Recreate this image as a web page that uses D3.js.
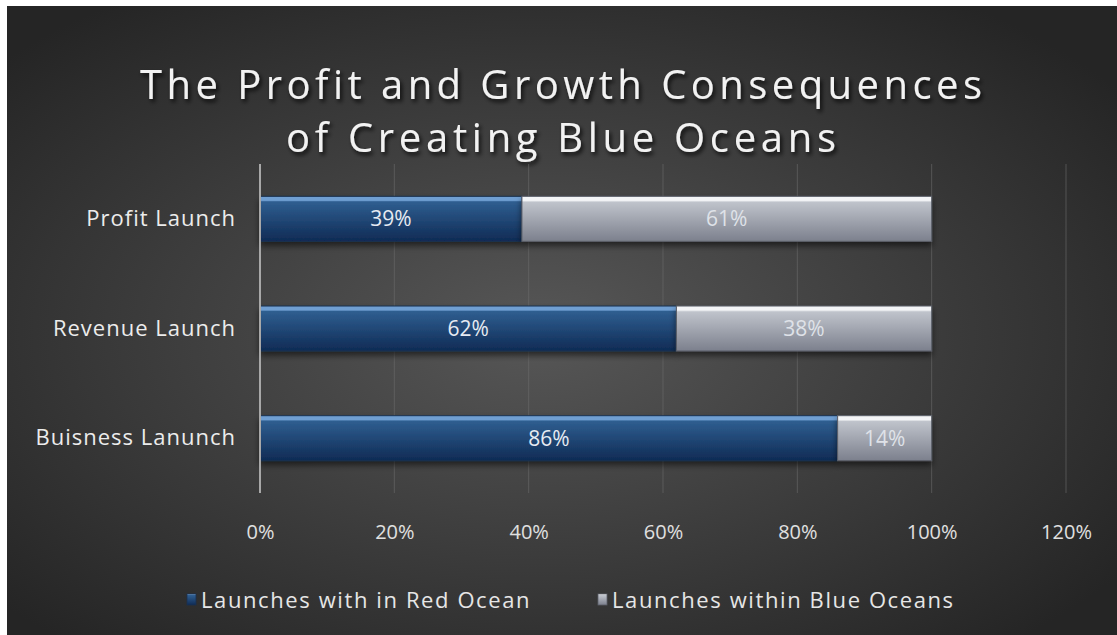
<!DOCTYPE html>
<html>
<head>
<meta charset="utf-8">
<script src="https://cdn.jsdelivr.net/npm/d3@7"></script>
<style>
  html, body { margin: 0; padding: 0; background: #fff; }
  svg { display: block; }
  text { font-family: "Open Sans", Lato, sans-serif; font-variant-ligatures: none; }
</style>
</head>
<body>
<div id="chart"></div>
<script>
const categories = ['Profit Launch', 'Revenue Launch', 'Buisness Lanunch'];
const redOcean = [39, 62, 86];
const blueOcean = [61, 38, 14];
const seriesNames = ['Launches with in Red Ocean', 'Launches within Blue Oceans'];
const xTicks = [0, 20, 40, 60, 80, 100, 120];
const titleLines = ['The Profit and Growth Consequences', 'of Creating Blue Oceans'];

const W = 1117, H = 635;

const svg = d3.select('#chart').append('svg')
  .attr('width', W)
  .attr('height', H);

const defs = svg.append('defs');

// background radial glow
const bgGrad = defs.append('radialGradient')
  .attr('id', 'bgGrad')
  .attr('cx', '48%').attr('cy', '52%').attr('r', '65%');
bgGrad.append('stop').attr('offset', '0%').attr('stop-color', '#575757');
bgGrad.append('stop').attr('offset', '100%').attr('stop-color', '#252525');

// bar fills
const blueGrad = defs.append('linearGradient')
  .attr('id', 'blueGrad').attr('x1', 0).attr('y1', 0).attr('x2', 0).attr('y2', 1);
blueGrad.append('stop').attr('offset', '0%').attr('stop-color', '#6f9fd2');
blueGrad.append('stop').attr('offset', '9%').attr('stop-color', '#6f9fd2');
blueGrad.append('stop').attr('offset', '12%').attr('stop-color', '#2f5e90');
blueGrad.append('stop').attr('offset', '100%').attr('stop-color', '#0f2b55');

const grayGrad = defs.append('linearGradient')
  .attr('id', 'grayGrad').attr('x1', 0).attr('y1', 0).attr('x2', 0).attr('y2', 1);
grayGrad.append('stop').attr('offset', '0%').attr('stop-color', '#f4f5f7');
grayGrad.append('stop').attr('offset', '9%').attr('stop-color', '#f4f5f7');
grayGrad.append('stop').attr('offset', '13%').attr('stop-color', '#bfc3cb');
grayGrad.append('stop').attr('offset', '100%').attr('stop-color', '#7c808d');

const shadow = defs.append('filter').attr('id', 'shadow')
  .attr('x', '-5%').attr('y', '-20%').attr('width', '110%').attr('height', '160%');
shadow.append('feDropShadow')
  .attr('dx', 0).attr('dy', 4).attr('stdDeviation', 3)
  .attr('flood-color', '#000').attr('flood-opacity', 0.55);

const txtShadow = defs.append('filter').attr('id', 'txtShadow')
  .attr('x', '-5%').attr('y', '-20%').attr('width', '110%').attr('height', '160%');
txtShadow.append('feDropShadow')
  .attr('dx', 2).attr('dy', 3).attr('stdDeviation', 2)
  .attr('flood-color', '#000').attr('flood-opacity', 0.8);

svg.append('rect')
  .attr('x', 7).attr('y', 6)
  .attr('width', W - 7).attr('height', H - 6)
  .attr('fill', 'url(#bgGrad)');

// title
const titleWidths = [842, 550];
svg.append('g')
  .attr('filter', 'url(#txtShadow)')
  .selectAll('text')
  .data(titleLines)
  .join('text')
  .attr('x', 561)
  .attr('y', (d, i) => 99 + i * 53)
  .attr('text-anchor', 'middle')
  .attr('fill', '#f2f2f2')
  .attr('font-size', 40)
  .attr('textLength', (d, i) => titleWidths[i])
  .attr('lengthAdjust', 'spacing')
  .text(d => d);

const margin = { left: 260, right: 1117 - 1066, top: 164, bottom: 635 - 493 };
const x = d3.scaleLinear()
  .domain([0, 120])
  .range([margin.left, W - margin.right]);
const y = d3.scaleBand()
  .domain(categories)
  .range([margin.top, H - margin.bottom])
  .paddingInner(0.59)
  .paddingOuter(0.295);

// gridlines
svg.append('g')
  .selectAll('line')
  .data(xTicks.slice(1))
  .join('line')
  .attr('x1', d => x(d)).attr('x2', d => x(d))
  .attr('y1', margin.top).attr('y2', H - margin.bottom)
  .attr('stroke', '#6a6a6a')
  .attr('stroke-opacity', 0.6)
  .attr('stroke-width', 1);

// x tick labels
const xAxis = d3.axisBottom(x)
  .tickValues(xTicks)
  .tickFormat(d => d + '%')
  .tickSize(0)
  .tickPadding(0);
const xg = svg.append('g')
  .attr('transform', `translate(0, ${H - margin.bottom + 32})`)
  .call(xAxis);
xg.select('.domain').remove();
xg.selectAll('text')
  .attr('fill', '#e0e0e0')
  .attr('font-size', 20)
  .attr('font-family', '"Open Sans", sans-serif');

// category labels
const yAxis = d3.axisLeft(y).tickSize(0).tickPadding(24);
const yg = svg.append('g')
  .attr('transform', `translate(${margin.left}, 0)`)
  .call(yAxis);
yg.select('.domain').remove();
yg.selectAll('text')
  .attr('fill', '#ececec')
  .attr('font-size', 22)
  .attr('letter-spacing', 1)
  .attr('font-family', '"Open Sans", sans-serif');

// stacked bars
const rows = categories.map((c, i) => ({ cat: c, red: redOcean[i], blue: blueOcean[i] }));
const stack = d3.stack().keys(['red', 'blue'])(rows);
const fills = ['url(#blueGrad)', 'url(#grayGrad)'];
const labelColors = ['#e6ebf2', '#dfe2e8'];

const barG = svg.append('g');
stack.forEach((layer, li) => {
  barG.append('g')
    .attr('filter', 'url(#shadow)')
    .selectAll('rect')
    .data(layer)
    .join('rect')
    .attr('x', d => x(d[0]))
    .attr('y', d => y(d.data.cat))
    .attr('width', d => x(d[1]) - x(d[0]))
    .attr('height', y.bandwidth())
    .attr('fill', fills[li])
    .attr('stroke', li === 0 ? '#1b3150' : '#5c606a')
    .attr('stroke-width', 1);
});

stack.forEach((layer, li) => {
  barG.append('g')
    .selectAll('text')
    .data(layer)
    .join('text')
    .attr('x', d => (x(d[0]) + x(d[1])) / 2)
    .attr('y', d => y(d.data.cat) + y.bandwidth() / 2)
    .attr('dy', '0.36em')
    .attr('text-anchor', 'middle')
    .attr('fill', labelColors[li])
    .attr('font-size', 21)
    .text(d => (d[1] - d[0]) + '%');
});

// vertical axis line
svg.append('line')
  .attr('x1', x(0)).attr('x2', x(0))
  .attr('y1', margin.top).attr('y2', H - margin.bottom)
  .attr('stroke', '#a8a8a8')
  .attr('stroke-width', 2);

// legend
const legendX = [187, 598];
const lg = svg.append('g')
  .selectAll('g')
  .data(seriesNames)
  .join('g')
  .attr('transform', (d, i) => `translate(${legendX[i]}, 600)`);
lg.append('rect')
  .attr('x', 0).attr('y', -6)
  .attr('width', 9).attr('height', 11)
  .attr('fill', (d, i) => fills[i])
  .attr('stroke', (d, i) => i === 0 ? '#1b3150' : '#5c606a')
  .attr('stroke-width', 0.8);
lg.append('text')
  .attr('x', 14)
  .attr('dy', '0.36em')
  .attr('fill', '#e6e6e6')
  .attr('font-size', 22)
  .attr('letter-spacing', 1.6)
  .text(d => d);
</script>
</body>
</html>
